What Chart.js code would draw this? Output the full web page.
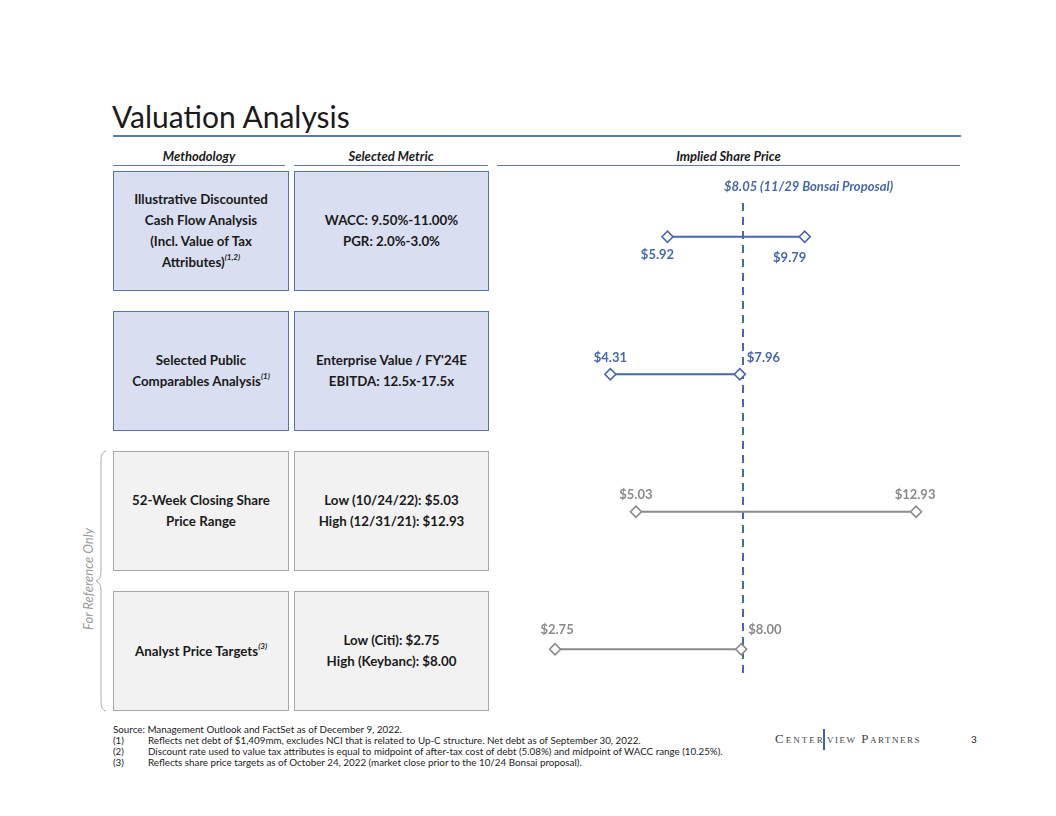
<!DOCTYPE html>
<html>
<head>
<meta charset="utf-8">
<script src="https://cdn.jsdelivr.net/npm/chart.js@4.4.1/dist/chart.umd.min.js"></script>
<style>
  body { margin: 0; width: 1056px; height: 816px; background: #fff; font-family: "Lato", "Open Sans", sans-serif; color: #1a1a1a; position: relative; overflow: hidden; }
  .abs { position: absolute; }
  .title { left: 112px; top: 98px; font-size: 30px; line-height: 36px; }
  .rule { background: #5b79b3; }
  .hdr { top: 148px; font-size: 13px; font-weight: bold; font-style: italic; text-align: center; line-height: 16px; }
  .box { box-sizing: border-box; display: flex; align-items: center; justify-content: center; text-align: center; font-weight: bold; font-size: 13.3px; line-height: 21px; }
  .blue { background: #d9dff0; border: 1px solid #5674b2; }
  .gray { background: #f2f2f3; border: 1px solid #a8a8a8; }
  sup { font-size: 8px; font-style: italic; vertical-align: 7px; line-height: 0; }
  .notes { left: 113px; top: 724px; font-size: 9.8px; line-height: 11px; color: #222; }
  .notes div span { display: inline-block; width: 35px; }
  .ref { font-size: 13px; font-style: italic; color: #9a9a9a; transform: rotate(-90deg); transform-origin: center; white-space: nowrap; }
  .logo { font-family: "Liberation Serif", serif; font-variant: small-caps; font-size: 13px; color: #444; }
</style>
</head>
<body>
<div class="abs title">Valuation Analysis</div>
<div class="abs rule" style="left:113px; top:135px; width:848px; height:1.5px;"></div>

<div class="abs hdr" style="left:113px; width:172px;">Methodology</div>
<div class="abs hdr" style="left:294px; width:194px;">Selected Metric</div>
<div class="abs hdr" style="left:497px; width:463px;">Implied Share Price</div>
<div class="abs rule" style="left:113px; top:165px; width:172px; height:1px;"></div>
<div class="abs rule" style="left:294px; top:165px; width:194px; height:1px;"></div>
<div class="abs rule" style="left:497px; top:165px; width:463px; height:1px;"></div>

<div class="abs box blue" style="left:113px; top:171px; width:176px; height:120px;"><div>Illustrative Discounted<br>Cash Flow Analysis<br>(Incl. Value of Tax<br>Attributes)<sup>(1,2)</sup></div></div>
<div class="abs box blue" style="left:294px; top:171px; width:195px; height:120px;"><div>WACC: 9.50%-11.00%<br>PGR: 2.0%-3.0%</div></div>
<div class="abs box blue" style="left:113px; top:311px; width:176px; height:120px;"><div>Selected Public<br>Comparables Analysis<sup>(1)</sup></div></div>
<div class="abs box blue" style="left:294px; top:311px; width:195px; height:120px;"><div>Enterprise Value / FY'24E<br>EBITDA: 12.5x-17.5x</div></div>
<div class="abs box gray" style="left:113px; top:451px; width:176px; height:120px;"><div>52-Week Closing Share<br>Price Range</div></div>
<div class="abs box gray" style="left:294px; top:451px; width:195px; height:120px;"><div>Low (10/24/22): $5.03<br>High (12/31/21): $12.93</div></div>
<div class="abs box gray" style="left:113px; top:591px; width:176px; height:120px;"><div>Analyst Price Targets<sup>(3)</sup></div></div>
<div class="abs box gray" style="left:294px; top:591px; width:195px; height:120px;"><div>Low (Citi): $2.75<br>High (Keybanc): $8.00</div></div>

<svg class="abs" style="left:94px; top:450px;" width="16" height="262">
  <path d="M12 1 Q7 2 7 10 L7 122 Q7 129 2 131 Q7 133 7 140 L7 252 Q7 260 12 261" fill="none" stroke="#aaa" stroke-width="1"/>
</svg>
<div class="abs ref" style="left:28px; top:571px; width:120px; text-align:center;">For Reference Only</div>

<div class="abs" style="left:493px; top:168px; width:461px; height:550px;">
  <canvas id="chart"></canvas>
</div>

<div class="abs notes">
  <div>Source: Management Outlook and FactSet as of December 9, 2022.</div>
  <div><span>(1)</span>Reflects net debt of $1,409mm, excludes NCI that is related to Up-C structure. Net debt as of September 30, 2022.</div>
  <div><span>(2)</span>Discount rate used to value tax attributes is equal to midpoint of after-tax cost of debt (5.08%) and midpoint of WACC range (10.25%).</div>
  <div><span>(3)</span>Reflects share price targets as of October 24, 2022 (market close prior to the 10/24 Bonsai proposal).</div>
</div>
<div class="abs logo" style="left:775px; top:731px; letter-spacing:2px;">Center</div>
<div class="abs" style="left:823px; top:729px; width:1.5px; height:21px; background:#3f62a8;"></div>
<div class="abs logo" style="left:827px; top:731px; letter-spacing:1.5px;">view Partners</div>
<div class="abs" style="left:971px; top:733px; font-size:10px;">3</div>

<script>
// --- DATA ---
const methods = ['DCF', 'Trading Comps', '52-Week Range', 'Analyst Targets'];
const lows = [5.92, 4.31, 5.03, 2.75];
const highs = [9.79, 7.96, 12.93, 8.00];
const proposal = 8.05;
const proposalLabel = '$8.05 (11/29 Bonsai Proposal)';

const BLUE = '#4667ad';
const GRAY = '#8a8a8a';
const rowColors = [BLUE, BLUE, GRAY, GRAY];

// label placement per row: [low, high] -> dx, dy, align
const labelPlace = [
  [{ dx: -10, dy: 18, a: 'center' }, { dx: -15, dy: 21, a: 'center' }],
  [{ dx: 0, dy: -16, a: 'center' }, { dx: 7, dy: -16, a: 'left' }],
  [{ dx: 0, dy: -17, a: 'center' }, { dx: -1, dy: -17, a: 'center' }],
  [{ dx: 2, dy: -19, a: 'center' }, { dx: 7, dy: -19, a: 'left' }]
];

const money = v => '$' + v.toFixed(2);

const datasets = methods.map((m, i) => ({
  label: m,
  data: [{ x: lows[i], y: m }, { x: highs[i], y: m }],
  showLine: true,
  borderColor: rowColors[i],
  borderWidth: 2,
  pointStyle: 'rectRot',
  pointRadius: 5.5,
  pointBackgroundColor: '#fff',
  pointBorderColor: rowColors[i],
  pointBorderWidth: 1.6
}));

// proposal dashed line + value labels
const decor = {
  id: 'decor',
  beforeDatasetsDraw(chart) {
    const ctx = chart.ctx;
    const px = chart.scales.x.getPixelForValue(proposal);
    ctx.save();
    ctx.strokeStyle = BLUE;
    ctx.lineWidth = 2;
    ctx.setLineDash([8, 6]);
    ctx.beginPath();
    ctx.moveTo(px, 35);
    ctx.lineTo(px, 508);
    ctx.stroke();
    ctx.setLineDash([]);
    ctx.font = 'italic bold 13px Lato';
    ctx.fillStyle = BLUE;
    ctx.textAlign = 'left';
    ctx.textBaseline = 'middle';
    ctx.fillText(proposalLabel, px - 19, 19);
    ctx.restore();
  },
  afterDatasetsDraw(chart) {
    const ctx = chart.ctx;
    ctx.save();
    ctx.font = 'bold 13px Lato';
    ctx.textBaseline = 'middle';
    chart.data.datasets.forEach((ds, i) => {
      const meta = chart.getDatasetMeta(i);
      meta.data.forEach((pt, j) => {
        const p = labelPlace[i][j];
        ctx.fillStyle = rowColors[i];
        ctx.textAlign = p.a;
        ctx.fillText(money(ds.data[j].x), pt.x + p.dx, pt.y + p.dy);
      });
    });
    ctx.restore();
  }
};

new Chart(document.getElementById('chart'), {
  type: 'scatter',
  data: { datasets },
  options: {
    responsive: true,
    maintainAspectRatio: false,
    animation: false,
    layout: { padding: 0, autoPadding: false },
    plugins: { legend: { display: false }, tooltip: { enabled: false } },
    scales: {
      x: { type: 'linear', min: 1, max: 14, display: false },
      y: { type: 'category', labels: methods, offset: true, display: false }
    }
  },
  plugins: [decor]
});
</script>
</body>
</html>
